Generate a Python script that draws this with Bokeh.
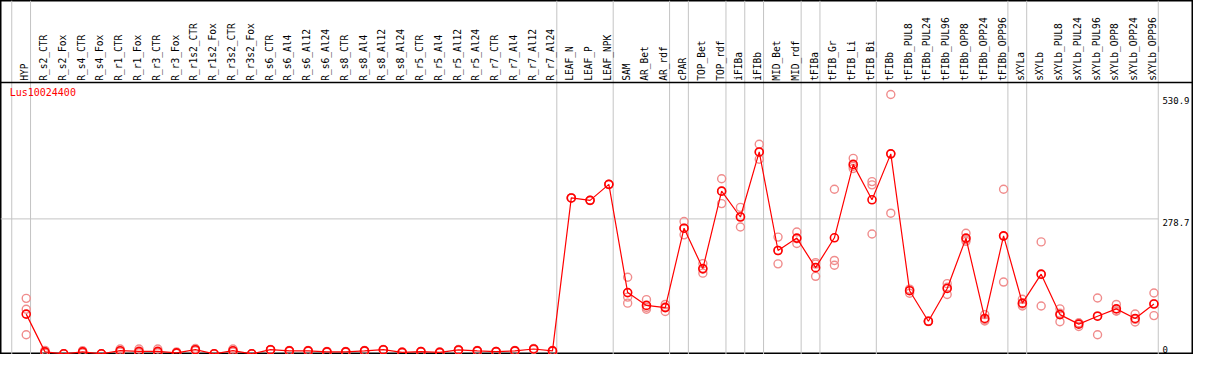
import math
from bokeh.plotting import figure
from bokeh.models import Range1d, ColumnDataSource, Span
from bokeh.core.properties import value
from bokeh.embed import file_html
from bokeh.resources import INLINE

gene = "Lus10024400"

categories = [
    "HYP", "R_s2_CTR", "R_s2_Fox", "R_s4_CTR", "R_s4_Fox", "R_r1_CTR", "R_r1_Fox",
    "R_r3_CTR", "R_r3_Fox", "R_r1s2_CTR", "R_r1s2_Fox", "R_r3s2_CTR", "R_r3s2_Fox",
    "R_s6_CTR", "R_s6_Al4", "R_s6_Al12", "R_s6_Al24", "R_s8_CTR", "R_s8_Al4",
    "R_s8_Al12", "R_s8_Al24", "R_r5_CTR", "R_r5_Al4", "R_r5_Al12", "R_r5_Al24",
    "R_r7_CTR", "R_r7_Al4", "R_r7_Al12", "R_r7_Al24", "LEAF_N", "LEAF_P", "LEAF_NPK",
    "SAM", "AR_Bet", "AR_rdf", "cPAR", "TOP_Bet", "TOP_rdf", "iFIBa", "iFIBb",
    "MID_Bet", "MID_rdf", "tFIBa", "tFIB_Gr", "tFIB_Li", "tFIB_Bi", "tFIBb",
    "tFIBb_PUL8", "tFIBb_PUL24", "tFIBb_PUL96", "tFIBb_OPP8", "tFIBb_OPP24",
    "tFIBb_OPP96", "sXYLa", "sXYLb", "sXYLb_PUL8", "sXYLb_PUL24", "sXYLb_PUL96",
    "sXYLb_OPP8", "sXYLb_OPP24", "sXYLb_OPP96",
]

means = [
    82, 4, 0, 4, 0, 6.5, 5, 5, 2, 8.5, 0, 6.5, 0,
    8.5, 6, 6, 4, 4, 6, 8.5, 3, 4.5, 3, 8, 6, 4.5, 6, 10, 6,
    322, 317, 350, 126.5, 100, 95.5, 259.5, 176, 336, 282.6, 417,
    213.4, 239, 178, 239.7, 391.3, 318.2, 413,
    130.4, 67.2, 135, 239, 73, 243.7,
    104.7, 164.6, 81, 61.3, 77.7, 92.9, 73.1, 102.8,
]

rep_a = [
    114.6, 7, 0, 6.5, 0, 10, 10, 10, 4, 11, 0, 10, 0,
    9, 7, 7, 5, 5, 7, 9, 4, 5, 4, 9, 7, 5, 7, 11, 7,
    322, 317, 350, 158.1, 111.9, 102, 273.3, 186.4, 361.7, 302.4, 432.8,
    241.1, 251.6, 188.3, 339.9, 403.8, 355.7, 535.6,
    133.6, 68, 144.9, 249, 81, 339.9,
    112.6, 231.2, 92.9, 63.7, 115.2, 102, 82.2, 125.7,
]
rep_b = [
    92.1, 4, 0, 4, 0, 6, 3, 3, 1, 8, 0, 6, 0,
    8.5, 6, 6, 4, 4, 6, 8.5, 3, 4.5, 3, 8, 6, 4.5, 6, 10, 6,
    322, 317, 350, 117.2, 96, 97, 259.5, 174.7, 336, 283.4, 416.4,
    213.3, 237.8, 185.3, 192.9, 387.4, 349, 413,
    132.5, 67, 137.6, 235.9, 70.5, 243,
    102.7, 163.8, 83.7, 63.7, 78.4, 88.4, 71.3, 103.7,
]
rep_c = [
    39.5, 1, 0, 1.5, 0, 3.5, 2, 2, 1, 6.5, 0, 3.5, 0,
    8, 5, 5, 3, 3, 5, 8, 2, 4, 2, 7, 5, 4, 5, 9, 5,
    322, 317, 350, 104.7, 92.1, 87.5, 245.7, 166.6, 310.3, 262, 401.8,
    185.8, 227.9, 160.1, 183, 382.7, 247.6, 290.5,
    125.1, 66.5, 122.5, 232.4, 67.8, 148.2,
    98.8, 98.8, 66.4, 56.5, 39.5, 88.4, 65.8, 79,
]

# group separators: after these categories (None = before the first one)
group_ends = [None, "HYP", "R_r7_Al24", "LEAF_NPK", "AR_rdf", "cPAR", "TOP_rdf",
              "iFIBa", "iFIBb", "MID_rdf", "tFIBa", "tFIB_Bi", "tFIBb_OPP96",
              "sXYLa", "sXYLb_OPP96"]

tick_values = [0, 278.7, 530.9]
tick_labels = ["0", "278.7", "530.9"]

# ---------------- layout ----------------
X0, X1 = -1.368, 62.105
Y0, Y1 = -1.4, 729.8
SEP_Y = 560.5
LABEL_Y = 563.8
BRK_OFF = 0.23

p = figure(width=1193, height=354, x_range=Range1d(X0, X1), y_range=Range1d(Y0, Y1),
           x_axis_type=None, y_axis_type=None, output_backend="svg",
           toolbar_location=None, min_border=0)
p.grid.visible = False
p.background_fill_color = "white"
p.border_fill_color = "white"
p.outline_line_color = "black"
p.outline_line_width = 2

xs = list(range(len(categories)))
brks = [(-1 if g is None else categories.index(g)) + BRK_OFF for g in group_ends]

p.segment(x0=brks, x1=brks, y0=[Y0] * len(brks), y1=[Y1] * len(brks),
          line_color="#c4c4c4", line_width=1)
p.segment(x0=[X0], x1=[brks[-1]], y0=[tick_values[1]], y1=[tick_values[1]],
          line_color="#c4c4c4", line_width=1)
p.add_layout(Span(location=SEP_Y, dimension="width", line_color="black", line_width=1.5))

mono = value("DejaVu Sans Mono")

# category labels (vertical)
p.text(x=xs, y=[LABEL_Y] * len(xs), text=categories, angle=math.pi / 2,
       text_align="left", text_baseline="middle", x_offset=-1.5,
       text_font=mono, text_font_size="9.6px", text_color="black")

# gene name
p.text(x=[-0.88], y=[551.5], text=[gene], text_align="left", text_baseline="top",
       text_font=mono, text_font_size="10px", text_color="red")

# right-hand value labels
lx = len(categories) - 1 + 0.45
p.text(x=[lx, lx], y=tick_values[1:], text=tick_labels[1:], text_align="left",
       text_baseline="top", text_font=mono, text_font_size="9px", text_color="black")
p.text(x=[lx], y=[1.5], text=tick_labels[:1], text_align="left",
       text_baseline="bottom", text_font=mono, text_font_size="9px", text_color="black")

# replicates
rep_src = ColumnDataSource(dict(x=xs * 3, y=rep_a + rep_b + rep_c))
p.scatter("x", "y", source=rep_src, marker="circle", size=8, fill_color=None,
          line_color="#f08c8c", line_width=1.4)

# means
mean_src = ColumnDataSource(dict(x=xs, y=means))
p.line("x", "y", source=mean_src, line_color="red", line_width=1.2)
p.scatter("x", "y", source=mean_src, marker="circle", size=8, fill_color=None,
          line_color="red", line_width=1.6)

open("out.html", "w").write(file_html(p, INLINE))
